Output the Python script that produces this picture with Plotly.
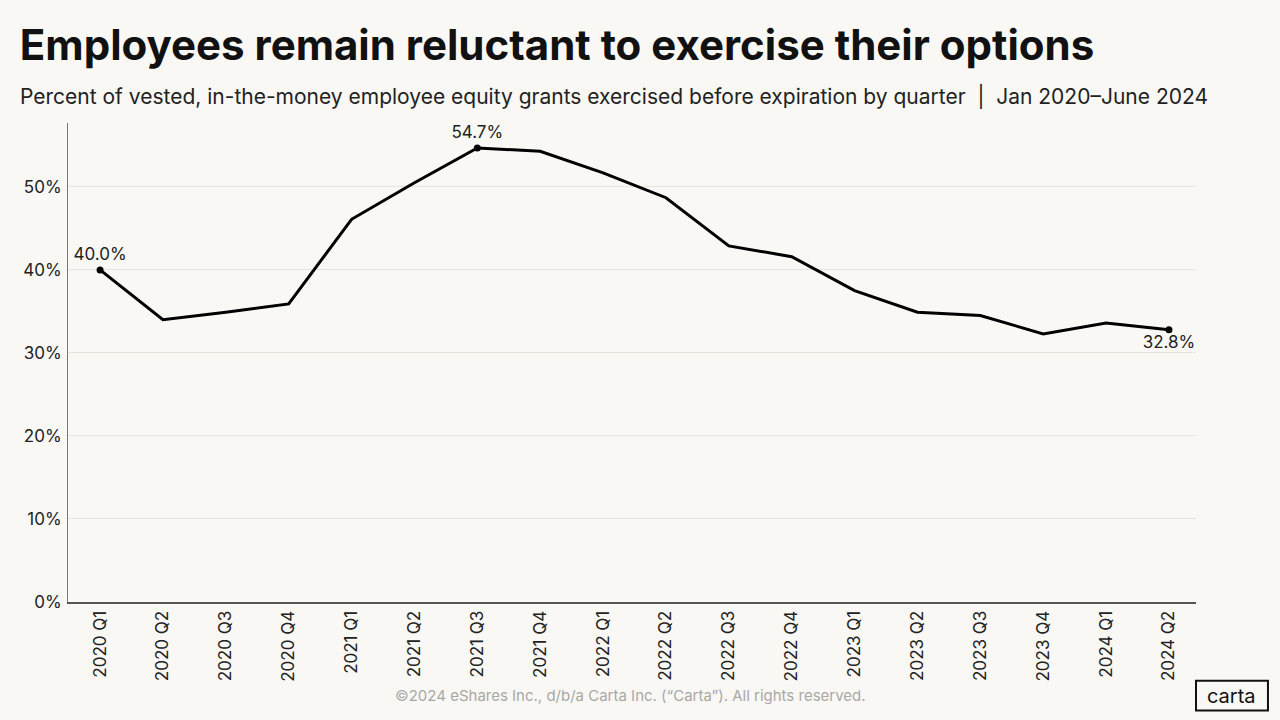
import plotly.graph_objects as go

quarters = ["2020 Q1", "2020 Q2", "2020 Q3", "2020 Q4",
            "2021 Q1", "2021 Q2", "2021 Q3", "2021 Q4",
            "2022 Q1", "2022 Q2", "2022 Q3", "2022 Q4",
            "2023 Q1", "2023 Q2", "2023 Q3", "2023 Q4",
            "2024 Q1", "2024 Q2"]
exercised_pct = [40.0, 34.0, 34.9, 35.9,
                 46.1, 50.5, 54.7, 54.3,
                 51.7, 48.7, 42.9, 41.6,
                 37.5, 34.9, 34.5, 32.3,
                 33.6, 32.8]
labeled = {"2020 Q1": "top center", "2021 Q3": "top center", "2024 Q2": "bottom center"}
y_ticks = [0, 10, 20, 30, 40, 50]

BG = "#faf8f4"
FONT = "Inter, Lato, sans-serif"

fig = go.Figure()
fig.add_trace(go.Scatter(
    x=quarters, y=exercised_pct, mode="lines",
    line=dict(color="#000000", width=3), hoverinfo="skip", showlegend=False))

lx = [q for q in quarters if q in labeled]
ly = [exercised_pct[quarters.index(q)] for q in lx]
fig.add_trace(go.Scatter(
    x=lx, y=ly, mode="markers+text",
    marker=dict(color="#000000", size=7),
    text=[f"{v:.1f}%" for v in ly],
    textposition=[labeled[q] for q in lx],
    textfont=dict(family=FONT, size=17, color="#222222"),
    showlegend=False, hoverinfo="skip", cliponaxis=False))

fig.update_layout(
    width=1280, height=720,
    paper_bgcolor=BG, plot_bgcolor=BG,
    margin=dict(l=68, r=84, t=123, b=118),
    font=dict(family=FONT, color="#222222"),
    title=dict(text="<b>Employees remain reluctant to exercise their options</b>",
               x=0.0155, xanchor="left", y=0.937, yanchor="middle",
               font=dict(family=FONT, size=42, color="#111111")),
    xaxis=dict(
        type="category", range=[-0.51, 17.43],
        tickangle=-90, tickfont=dict(family=FONT, size=17, color="#222222"),
        showgrid=False, showline=True, linecolor="#555555", linewidth=2,
        ticks="", fixedrange=True),
    yaxis=dict(
        range=[0, 57.7], tickvals=y_ticks, ticktext=[f"{v}%" for v in y_ticks],
        tickfont=dict(family=FONT, size=17, color="#222222"),
        showgrid=True, gridcolor="#e7e3dd", gridwidth=1,
        zeroline=False, showline=True, linecolor="#777777", linewidth=1,
        ticks="", ticklabelstandoff=2, fixedrange=True),
)

fig.add_annotation(
    text="Percent of vested, in-the-money employee equity grants exercised before expiration by quarter  |  Jan 2020–June 2024",
    xref="paper", yref="paper", x=-0.0445, y=1.057, xanchor="left", yanchor="middle",
    showarrow=False, font=dict(family=FONT, size=21, color="#222222"))

fig.add_annotation(
    text="©2024 eShares Inc., d/b/a Carta Inc. (“Carta”). All rights reserved.",
    xref="paper", yref="paper", x=0.499, y=-0.195, xanchor="center", yanchor="middle",
    showarrow=False, font=dict(family=FONT, size=15, color="#a8a8a8"))

# logo box
fig.add_shape(type="rect", xref="paper", yref="paper",
              x0=1.0, x1=1.0638, y0=-0.2265, y1=-0.1645,
              line=dict(color="#111111", width=2), fillcolor=BG)
fig.add_annotation(text="carta", xref="paper", yref="paper",
                   x=1.0319, y=-0.1955, xanchor="center", yanchor="middle",
                   showarrow=False, font=dict(family=FONT, size=20, color="#111111"))

fig.write_html("out.html", config={"displayModeBar": False},
               post_script="document.body.style.margin='0';")
